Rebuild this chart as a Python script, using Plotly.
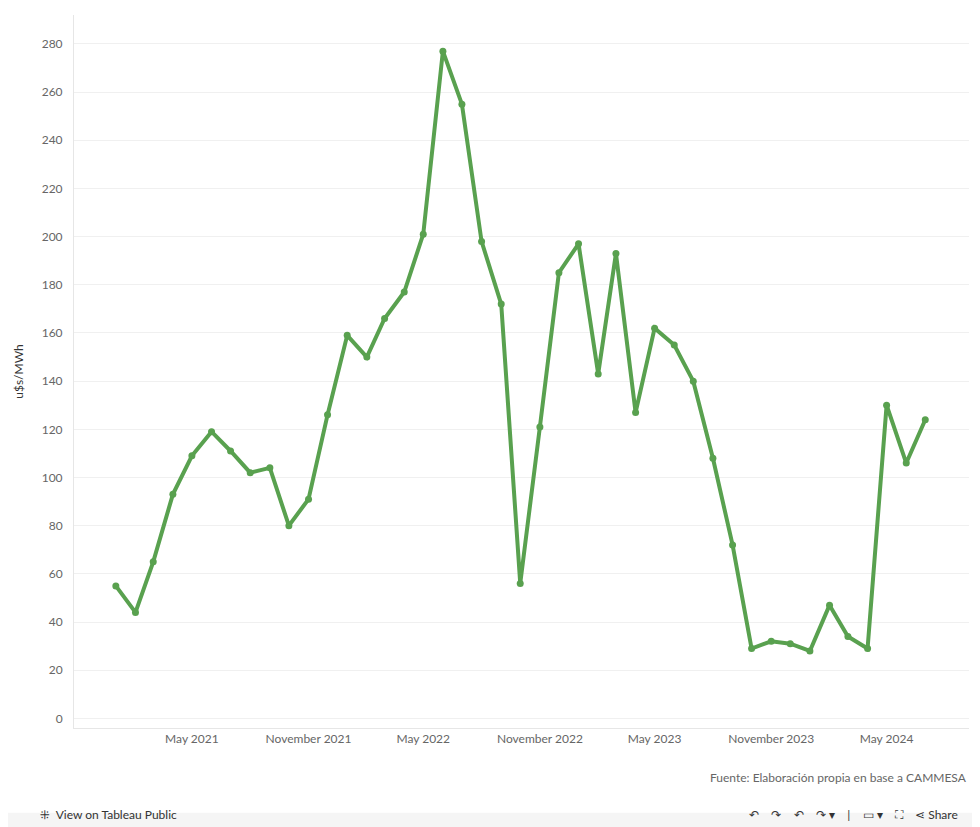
import plotly.graph_objects as go
import pandas as pd

months = pd.date_range("2021-01-01", periods=43, freq="MS")
values = [55, 44, 65, 93, 109, 119, 111, 102, 104, 80, 91, 126,
          159, 150, 166, 177, 201, 277, 255, 198, 172, 56, 121, 185,
          197, 143, 193, 127, 162, 155, 140, 108, 72, 29, 32, 31,
          28, 47, 34, 29, 130, 106, 124]
tick_vals = ["2021-05-01", "2021-11-01", "2022-05-01", "2022-11-01", "2023-05-01", "2023-11-01", "2024-05-01"]
tick_text = ["May 2021", "November 2021", "May 2022", "November 2022", "May 2023", "November 2023", "May 2024"]

fig = go.Figure(go.Scatter(x=months, y=values, mode="lines+markers",
                           line=dict(color="#59A14F", width=4),
                           marker=dict(color="#59A14F", size=7)))
fig.update_layout(
    width=980, height=827, plot_bgcolor="white", paper_bgcolor="white",
    margin=dict(l=66, r=19, t=7, b=107), showlegend=False,
    font=dict(family="Lato, Open Sans, sans-serif", color="#666", size=12),
    xaxis=dict(range=["2020-10-27", "2024-09-08"], tickvals=tick_vals, ticktext=tick_text,
               showgrid=False, showline=True, linecolor="#e6e6e6", ticks="", zeroline=False),
    yaxis=dict(range=[-4, 292], tickvals=list(range(0, 281, 20)), showgrid=True, gridcolor="#f0f0f0",
               zeroline=False, showline=True, linecolor="#e6e6e6", ticks="",
               title=dict(text="u$s/MWh", font=dict(color="#333", size=12)), ticklabelstandoff=8),
    shapes=[dict(type="rect", xref="paper", yref="paper", x0=-0.1, x1=1.03, y0=-0.17, y1=-0.119,
                 fillcolor="#f5f5f5", line_width=0, layer="below")],
    annotations=[
        dict(text="Fuente: Elaboración propia en base a CAMMESA", xref="paper", yref="paper",
             x=1.0, y=0, yshift=-49, yanchor="middle", xanchor="right", showarrow=False,
             font=dict(size=12, color="#666")),
        dict(text="⁜  View on Tableau Public", xref="paper", yref="paper", x=-0.04, y=0, yshift=-86,
             xanchor="left", yanchor="middle", showarrow=False, font=dict(size=12, color="#333")),
        dict(text="↶    ↷    ↶    ↷ ▾    |    ▭ ▾    ⛶    ⋖ Share", xref="paper", yref="paper", x=0.99,
             y=0, yshift=-86, xanchor="right", yanchor="middle", showarrow=False,
             font=dict(size=12, color="#333")),
    ],
)
fig.write_html("out.html")
